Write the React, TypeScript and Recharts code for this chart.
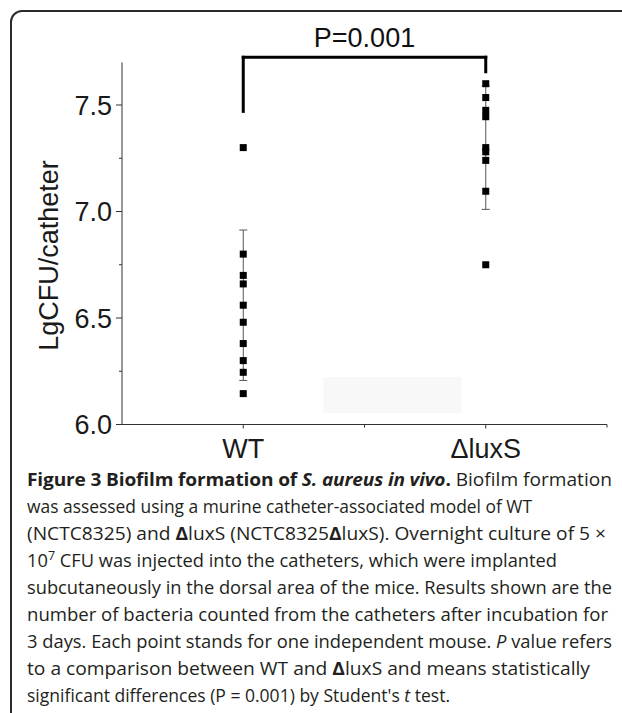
import React from 'react';
import {
  ScatterChart,
  Scatter,
  XAxis,
  YAxis,
  ErrorBar,
  ReferenceLine,
  ReferenceArea,
} from 'recharts';

// ---------- data ----------
const categories = ['WT', 'ΔluxS'];
const categoryX = [1, 3];
const xTicks = [1, 2, 3, 4];
const yTicks = [6.0, 6.25, 6.5, 6.75, 7.0, 7.25, 7.5];
const yMajorTicks = [6.0, 6.5, 7.0, 7.5];
const yDomain = [6.0, 7.7];
const xDomain = [0, 4];

const wtValues = [7.3, 6.8, 6.7, 6.66, 6.56, 6.48, 6.38, 6.3, 6.245, 6.145];
const luxValues = [7.6, 7.535, 7.475, 7.445, 7.3, 7.28, 7.24, 7.095, 6.75];
const groupMeans = [6.56, 7.3];
const groupSD = [0.353, 0.29];

const pValueLabel = 'P=0.001';
const bracketLeftBottom = 7.47;
const bracketTop = 7.724;
const bracketRightBottom = 7.656;

const yAxisTitle = 'LgCFU/catheter';

// light background patch visible in the original figure
const patchX = [1.66, 2.8];
const patchY = [6.054, 6.223];

// ---------- derived tables ----------
const wtData = wtValues.map((v) => ({ x: categoryX[0], y: v }));
const luxData = luxValues.map((v) => ({ x: categoryX[1], y: v }));
const meanData = groupMeans.map((m, i) => ({ x: categoryX[i], y: m, err: groupSD[i] }));

const AXIS_FONT = '"Liberation Sans", Arial, sans-serif';
const CAP_FONT = '"Open Sans", "Noto Sans", sans-serif';
const AXIS_FS = 27;

const SquareMark = (props: any) => {
  const { cx, cy } = props;
  if (cx == null || cy == null) return <g />;
  return <rect x={cx - 3.5} y={cy - 3.5} width={7} height={7} fill="#000" />;
};

const EmptyMark = () => <g />;

const YTick = (props: any) => {
  const { x, y, payload } = props;
  const v = payload.value;
  const major = yMajorTicks.some((t) => Math.abs(t - v) < 1e-6);
  return (
    <g>
      <line x1={x - (major ? 6 : 3)} x2={x} y1={y} y2={y} stroke="#333" strokeWidth={1} />
      {major && (
        <text
          x={x - 10}
          y={y}
          dy="0.36em"
          textAnchor="end"
          fontSize={AXIS_FS}
          fontFamily={AXIS_FONT}
          fill="#1a1a1a"
        >
          {v.toFixed(1)}
        </text>
      )}
    </g>
  );
};

const XTick = (props: any) => {
  const { x, y, payload } = props;
  const v = payload.value;
  const idx = categoryX.indexOf(v);
  const major = idx >= 0;
  return (
    <g>
      <line x1={x} x2={x} y1={y} y2={y + (major ? 4 : 3)} stroke="#333" strokeWidth={1} />
      {major && (
        <text
          x={x}
          y={y + 33}
          textAnchor="middle"
          fontSize={AXIS_FS}
          fontFamily={AXIS_FONT}
          fill="#1a1a1a"
        >
          {categories[idx]}
        </text>
      )}
    </g>
  );
};

const YTitle = (props: any) => {
  const vb = props.viewBox || {};
  const cx = 58;
  const cy = (vb.y || 0) + (vb.height || 0) / 2 + 12;
  return (
    <text
      x={cx}
      y={cy}
      transform={`rotate(-90 ${cx} ${cy})`}
      textAnchor="middle"
      fontSize={AXIS_FS}
      fontFamily={AXIS_FONT}
      fill="#1a1a1a"
    >
      {yAxisTitle}
    </text>
  );
};

// ---------- caption ----------
type Seg = { t: string; b?: boolean; i?: boolean; sup?: boolean };
const captionLines: Seg[][] = [
  [
    { t: 'Figure 3 Biofilm formation of ', b: true },
    { t: 'S. aureus in vivo', b: true, i: true },
    { t: '.', b: true },
    { t: ' Biofilm formation' },
  ],
  [{ t: 'was assessed using a murine catheter-associated model of WT' }],
  [
    { t: '(NCTC8325) and ' },
    { t: 'Δ', b: true },
    { t: 'luxS (NCTC8325' },
    { t: 'Δ', b: true },
    { t: 'luxS). Overnight culture of 5 ×' },
  ],
  [
    { t: '10' },
    { t: '7', sup: true },
    { t: ' CFU was injected into the catheters, which were implanted' },
  ],
  [{ t: 'subcutaneously in the dorsal area of the mice. Results shown are the' }],
  [{ t: 'number of bacteria counted from the catheters after incubation for' }],
  [
    { t: '3 days. Each point stands for one independent mouse. ' },
    { t: 'P', i: true },
    { t: ' value refers' },
  ],
  [
    { t: 'to a comparison between WT and ' },
    { t: 'Δ', b: true },
    { t: 'luxS and means statistically' },
  ],
  [
    { t: "significant differences (P = 0.001) by Student's " },
    { t: 't', i: true },
    { t: ' test.' },
  ],
];
const captionWidths = [585, 505, 579, 530, 585, 581, 585, 563, 423];

const Caption = () => {
  const left = 27;
  const firstBase = 485.5;
  const step = 27;
  return (
    <g>
      {captionLines.map((segs, li) => {
        const out: any[] = [];
        let raised = false;
        segs.forEach((s, si) => {
          let dy: number | undefined = undefined;
          if (s.sup) {
            dy = -7;
            raised = true;
          } else if (raised) {
            dy = 7;
            raised = false;
          }
          out.push(
            <tspan
              key={si}
              dy={dy}
              fontWeight={s.b ? 700 : 400}
              fontStyle={s.i ? 'italic' : 'normal'}
              fontSize={s.sup ? 12 : undefined}
              letterSpacing={s.b && li === 0 ? -0.15 : undefined}
            >
              {s.t}
            </tspan>
          );
        });
        return (
          <text
            key={li}
            x={left}
            y={firstBase + li * step}
            fontSize={17.5}
            fontFamily={CAP_FONT}
            fill="#231f20"
            textLength={captionWidths[li]}
            lengthAdjust="spacingAndGlyphs"
            style={{ whiteSpace: 'pre' }}
          >
            {out}
          </text>
        );
      })}
    </g>
  );
};

export default function App() {
  return (
    <div
      style={{
        position: 'absolute',
        left: 0,
        top: 0,
        width: 622,
        height: 713,
        background: '#fff',
        overflow: 'hidden',
      }}
    >
      <div style={{ position: 'absolute', left: 0, top: 0 }}>
        <ScatterChart
          width={622}
          height={480}
          margin={{ top: 62.4, right: 15, bottom: 0, left: 0 }}
        >
          <XAxis
            type="number"
            dataKey="x"
            domain={xDomain}
            ticks={xTicks}
            interval={0}
            height={55.5}
            tickSize={0}
            tickMargin={0}
            tickLine={false}
            axisLine={{ stroke: '#333', strokeWidth: 1 }}
            tick={<XTick />}
            allowDataOverflow
          />
          <YAxis
            type="number"
            dataKey="y"
            domain={yDomain}
            ticks={yTicks}
            interval={0}
            width={122}
            tickSize={0}
            tickMargin={0}
            tickLine={false}
            axisLine={{ stroke: '#333', strokeWidth: 1 }}
            tick={<YTick />}
            allowDataOverflow
            label={{ content: <YTitle /> }}
          />
          <ReferenceArea
            x1={patchX[0]}
            x2={patchX[1]}
            y1={patchY[0]}
            y2={patchY[1]}
            fill="#f8f8f8"
            fillOpacity={1}
            stroke="none"
            ifOverflow="visible"
          />
          <Scatter data={meanData} shape={<EmptyMark />} isAnimationActive={false}>
            <ErrorBar
              dataKey="err"
              direction="y"
              width={4}
              stroke="#555"
              strokeWidth={1}
              isAnimationActive={false}
            />
          </Scatter>
          <Scatter data={wtData} shape={<SquareMark />} isAnimationActive={false} />
          <Scatter data={luxData} shape={<SquareMark />} isAnimationActive={false} />
          <ReferenceLine
            segment={[
              { x: categoryX[0], y: bracketLeftBottom },
              { x: categoryX[0], y: bracketTop },
            ]}
            stroke="#000"
            strokeWidth={3}
            strokeLinecap="square"
            ifOverflow="visible"
          />
          <ReferenceLine
            segment={[
              { x: categoryX[0], y: bracketTop },
              { x: categoryX[1], y: bracketTop },
            ]}
            stroke="#000"
            strokeWidth={3}
            strokeLinecap="square"
            ifOverflow="visible"
            label={{
              value: pValueLabel,
              position: 'top',
              offset: 10,
              fontSize: AXIS_FS,
              fontFamily: AXIS_FONT,
              fill: '#111',
            }}
          />
          <ReferenceLine
            segment={[
              { x: categoryX[1], y: bracketTop },
              { x: categoryX[1], y: bracketRightBottom },
            ]}
            stroke="#000"
            strokeWidth={3}
            strokeLinecap="square"
            ifOverflow="visible"
          />
        </ScatterChart>
      </div>
      <svg
        width={622}
        height={713}
        style={{ position: 'absolute', left: 0, top: 0, pointerEvents: 'none' }}
      >
        <rect
          x={11}
          y={11}
          width={660}
          height={712}
          rx={11}
          ry={11}
          fill="none"
          stroke="#2b2b2b"
          strokeWidth={2}
        />
        <Caption />
      </svg>
    </div>
  );
}
